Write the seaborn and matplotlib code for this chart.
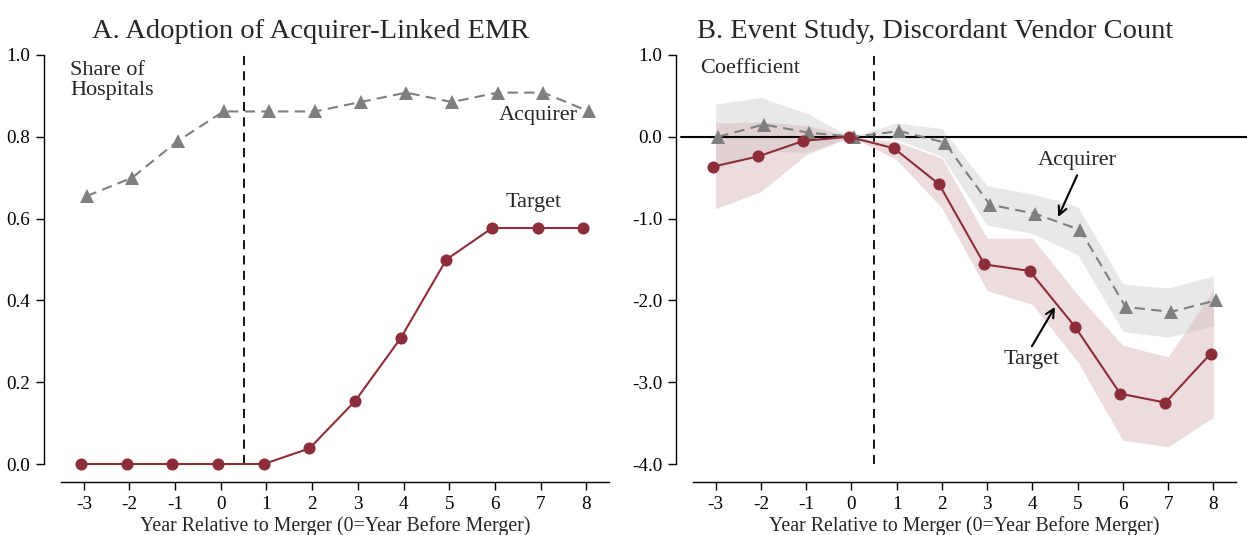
import numpy as np
import pandas as pd
import seaborn as sns
import matplotlib
matplotlib.use("Agg")
import matplotlib.pyplot as plt

# ---- data ----
years = [-3, -2, -1, 0, 1, 2, 3, 4, 5, 6, 7, 8]

adopt_acquirer = [0.655, 0.70, 0.79, 0.862, 0.862, 0.862, 0.885, 0.908, 0.885, 0.908, 0.908, 0.862]
adopt_target = [0.0, 0.0, 0.0, 0.0, 0.0, 0.038, 0.154, 0.308, 0.50, 0.577, 0.577, 0.577]

es_acquirer = [0.0, 0.15, 0.05, 0.0, 0.07, -0.07, -0.83, -0.94, -1.14, -2.08, -2.14, -2.0]
es_acquirer_lo = [-0.40, -0.18, -0.19, 0.0, -0.03, -0.24, -1.08, -1.18, -1.44, -2.38, -2.45, -2.31]
es_acquirer_hi = [0.40, 0.48, 0.29, 0.0, 0.17, 0.10, -0.60, -0.70, -0.85, -1.80, -1.85, -1.70]

es_target = [-0.365, -0.24, -0.05, 0.0, -0.14, -0.58, -1.56, -1.64, -2.32, -3.14, -3.25, -2.65]
es_target_lo = [-0.88, -0.67, -0.22, 0.0, -0.28, -0.87, -1.88, -2.05, -2.75, -3.71, -3.79, -3.43]
es_target_hi = [0.17, 0.18, 0.14, 0.0, -0.06, -0.26, -1.24, -1.24, -1.93, -2.55, -2.69, -1.87]

yticks_a = [0.0, 0.2, 0.4, 0.6, 0.8, 1.0]
yticks_b = [-4.0, -3.0, -2.0, -1.0, 0.0, 1.0]

# ---- style ----
sns.set_theme(style="ticks")
plt.rcParams["font.family"] = ["Liberation Serif", "DejaVu Serif"]
plt.rcParams["axes.linewidth"] = 1.0

RED = "#8c2d3a"
GREY = "#7f7f7f"
GREY_BAND = "#d9d9d9"
RED_BAND = "#d9b3b7"

fig = plt.figure(figsize=(12.47, 5.35), dpi=100)
axA = fig.add_axes([0.0489, 0.1327, 0.4395, 0.7645])
axB = fig.add_axes([0.5557, 0.1327, 0.4355, 0.7645])

off = 0.06
yrs = np.array(years, dtype=float)

dfA = pd.DataFrame({
    "x_acq": yrs + off, "acq": adopt_acquirer,
    "x_tgt": yrs - off, "tgt": adopt_target,
})
dfB = pd.DataFrame({
    "x_acq": yrs + off, "acq": es_acquirer,
    "x_tgt": yrs - off, "tgt": es_target,
})

TXT = 16


def style_axes(ax, yticks, ylim, fmt):
    ax.set_xlim(-3.5, 8.5)
    ax.set_ylim(*ylim)
    ax.set_xticks(years)
    ax.set_xticklabels([str(y) for y in years])
    ax.set_yticks(yticks)
    ax.set_yticklabels([fmt.format(v) for v in yticks])
    for s in ["top", "right"]:
        ax.spines[s].set_visible(False)
    ax.spines["left"].set_position(("outward", 12))
    ax.spines["bottom"].set_position(("outward", 13))
    ax.spines["left"].set_color("black")
    ax.spines["bottom"].set_color("black")
    ax.tick_params(axis="both", direction="out", length=6, width=1,
                   colors="black", pad=4, labelsize=13.8)
    ax.set_xlabel("Year Relative to Merger (0=Year Before Merger)", fontsize=14.3, labelpad=2)
    ax.set_ylabel("")
    ax.set_facecolor("white")


# ---- Panel A ----
axA.axvline(0.5, color="black", lw=1.3, ls=(0, (5, 3.5)), zorder=1)
sns.lineplot(data=dfA, x="x_acq", y="acq", ax=axA, color=GREY, lw=1.5,
             marker="^", markersize=10, markeredgewidth=0, clip_on=False, zorder=3)
axA.lines[-1].set_dashes([5, 3])
sns.lineplot(data=dfA, x="x_tgt", y="tgt", ax=axA, color=RED, lw=1.5,
             marker="o", markersize=8.7, markeredgewidth=0, clip_on=False, zorder=4)
style_axes(axA, yticks_a, (0, 1.0), "{:.1f}")
axA.set_title("A. Adoption of Acquirer-Linked EMR", fontsize=20.5, pad=12, x=0.456)
axA.text(-3.3, 0.985, "Share of\nHospitals", fontsize=TXT, va="top", ha="left", linespacing=1.05)
axA.text(6.95, 0.852, "Acquirer", fontsize=TXT, ha="center", va="center")
axA.text(6.85, 0.640, "Target", fontsize=TXT, ha="center", va="center")

# ---- Panel B ----
axB.fill_between(years, es_acquirer_lo, es_acquirer_hi, color=GREY_BAND, alpha=0.6, lw=0, zorder=1)
axB.fill_between(years, es_target_lo, es_target_hi, color=RED_BAND, alpha=0.45, lw=0, zorder=1)
axB.axhline(0.0, color="black", lw=1.5, zorder=2, xmin=-0.022, xmax=1.03, clip_on=False)
axB.axvline(0.5, color="black", lw=1.3, ls=(0, (5, 3.5)), zorder=2)
sns.lineplot(data=dfB, x="x_acq", y="acq", ax=axB, color=GREY, lw=1.5,
             marker="^", markersize=10, markeredgewidth=0, clip_on=False, zorder=3)
axB.lines[-1].set_dashes([5, 3])
sns.lineplot(data=dfB, x="x_tgt", y="tgt", ax=axB, color=RED, lw=1.5,
             marker="o", markersize=8.7, markeredgewidth=0, clip_on=False, zorder=4)
style_axes(axB, yticks_b, (-4.0, 1.0), "{:.1f}")
axB.set_title("B. Event Study, Discordant Vendor Count", fontsize=20.5, pad=12, x=0.446)
axB.text(-3.35, 0.83, "Coefficient", fontsize=TXT, va="center", ha="left")

arrow_kw = dict(arrowstyle="->", color="black", lw=1.5, shrinkA=0, shrinkB=0, mutation_scale=15)
axB.text(4.99, -0.285, "Acquirer", fontsize=TXT, ha="center", va="center")
axB.annotate("", xy=(4.57, -0.98), xytext=(4.99, -0.47), arrowprops=arrow_kw)
axB.text(3.99, -2.72, "Target", fontsize=TXT, ha="center", va="center")
axB.annotate("", xy=(4.5, -2.08), xytext=(3.99, -2.56), arrowprops=arrow_kw)

fig.savefig("out.png", dpi=100, facecolor="white")
